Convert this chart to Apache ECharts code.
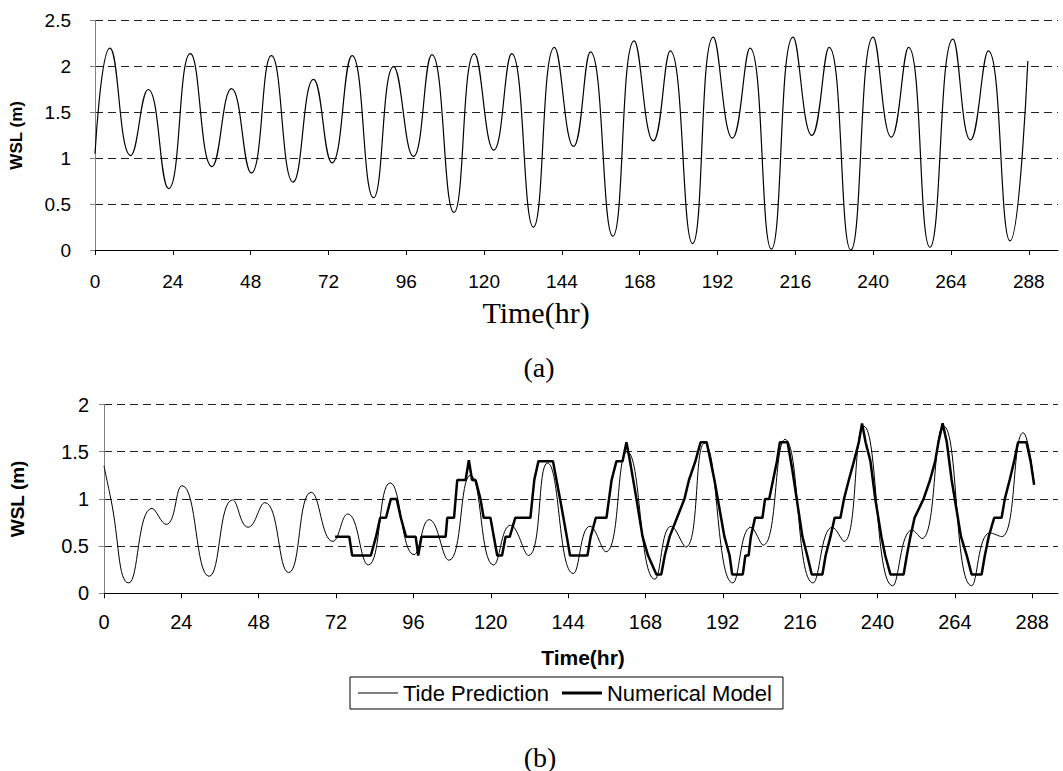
<!DOCTYPE html>
<html><head><meta charset="utf-8">
<script src="https://cdn.jsdelivr.net/npm/echarts@6/dist/echarts.min.js"></script>
<style>html,body{margin:0;padding:0;background:#fff}#c{width:1063px;height:771px}</style>
</head><body><div id="c"></div>
<script>
// ---- data ----
const hourTicks = [0, 24, 48, 72, 96, 120, 144, 168, 192, 216, 240, 264, 288];
const seriesNames = ['Tide Prediction', 'Numerical Model'];
const axisTitles = ['Time(hr)', 'WSL (m)'];
const panelLabels = ['(a)', '(b)'];

// panel (a): tide level, turning points (hr, m)
const topTime = [0, 4.6, 11.0, 16.4, 22.7, 29.4, 36.1, 42.1, 48.2, 54.4, 61.1, 67.4, 73.1, 79.3, 85.9, 92.1,
  98.2, 103.9, 110.7, 117.0, 123.0, 128.5, 135.2, 141.7, 147.6, 152.8, 159.7, 166.3, 172.2, 177.4, 184.3,
  190.7, 196.6, 202.0, 208.6, 215.3, 221.1, 226.4, 233.1, 240.0, 245.6, 250.9, 257.5, 264.6, 270.0, 275.5,
  282.2, 287.7];
const topWsl = [1.05, 2.20, 1.03, 1.75, 0.67, 2.14, 0.91, 1.76, 0.84, 2.12, 0.74, 1.86, 0.95, 2.12, 0.57, 2.00,
  1.02, 2.13, 0.41, 2.14, 1.09, 2.14, 0.25, 2.21, 1.13, 2.16, 0.15, 2.28, 1.19, 2.17, 0.07,
  2.32, 1.22, 2.20, 0.01, 2.32, 1.25, 2.21, 0.00, 2.32, 1.23, 2.21, 0.03, 2.30, 1.20, 2.17,
  0.10, 2.06];

// panel (b): tide prediction
const tideTime = [0, 2.0, 7.7, 14.9, 19.3, 24.2, 32.6, 39.9, 44.7, 49.9, 57.3, 64.3, 71.0, 75.6, 82.0, 88.8,
  96.2, 100.9, 107.0, 113.7, 120.9, 126.1, 131.7, 137.6, 145.6, 150.8, 155.7, 162.3, 170.9, 176.0, 180.5,
  186.3, 195.1, 200.7, 204.5, 211.3, 220.0, 226.0, 229.6, 235.7, 244.7, 250.7, 253.8, 260.5, 269.2, 274.9,
  278.5, 285.2, 288.6];
const tideWsl = [1.35, 1.02, 0.11, 0.90, 0.73, 1.14, 0.18, 0.99, 0.70, 0.96, 0.22, 1.07, 0.55, 0.84, 0.30, 1.17,
  0.41, 0.78, 0.35, 1.25, 0.30, 0.72, 0.40, 1.38, 0.21, 0.71, 0.44, 1.50, 0.15, 0.71, 0.49,
  1.59, 0.11, 0.70, 0.51, 1.63, 0.11, 0.70, 0.55, 1.77, 0.08, 0.67, 0.58, 1.77, 0.08, 0.64,
  0.60, 1.70, 1.15];

// panel (b): numerical model (stepped output)
const modelTime = [71.7, 76.1, 77.0, 82.8, 84.4, 85.7, 87.5, 89.0, 90.8, 92.1, 93.7,
  96.7, 97.5, 98.5, 106.0, 106.5, 108.6, 109.6, 112.2, 113.2, 114.2, 115.3, 116.8, 117.8, 119.9,
  122.0, 123.5, 124.6, 125.9, 127.6, 132.3, 133.5, 134.8, 139.3, 141.5, 143.6, 144.6, 150.0, 151.0,
  152.6, 155.9, 157.5, 159.0, 160.9, 162.1, 163.2, 165.2, 167.1, 168.8, 171.4, 172.9, 174.0, 175.5,
  177.8, 180.1, 181.5, 183.5, 185.1, 187.0, 189.4, 192.5, 194.1, 194.9, 198.2, 199.0, 200.0, 200.7,
  202.0, 204.3, 205.1, 206.4, 207.6, 208.8, 209.7, 212.1, 213.6, 216.7, 218.2, 219.6, 222.9, 223.9,
  225.4, 226.7, 228.5, 229.6, 231.1, 232.7, 234.2, 235.2, 236.3, 237.8, 239.3, 241.2, 242.4, 244.0,
  248.1, 249.1, 250.2, 251.5, 254.3, 256.3, 257.9, 258.9, 260.2, 261.5, 263.0, 265.9, 267.7, 269.2,
  272.3, 273.3, 274.5, 276.2, 278.5, 279.5, 281.0, 282.4, 283.6, 286.2, 287.5, 288.6];
const modelWsl = [0.6, 0.6, 0.4, 0.4, 0.6, 0.8, 0.8, 1.0, 1.0, 0.8, 0.6,
  0.6, 0.4, 0.6, 0.6, 0.8, 0.8, 1.2, 1.2, 1.41, 1.2, 1.2, 1.0, 0.8, 0.8,
  0.4, 0.4, 0.6, 0.6, 0.8, 0.8, 1.2, 1.4, 1.4, 1.0, 0.6, 0.4, 0.4, 0.6,
  0.8, 0.8, 1.2, 1.4, 1.4, 1.6, 1.4, 1.0, 0.6, 0.4, 0.2, 0.2, 0.4, 0.6,
  0.8, 1.0, 1.2, 1.4, 1.6, 1.6, 1.2, 0.6, 0.4, 0.2, 0.2, 0.4, 0.4, 0.6,
  0.8, 0.8, 1.0, 1.0, 1.2, 1.4, 1.6, 1.6, 1.3, 0.6, 0.4, 0.2, 0.2, 0.4,
  0.6, 0.8, 0.8, 1.0, 1.2, 1.4, 1.6, 1.8, 1.6, 1.4, 1.0, 0.6, 0.4, 0.2,
  0.2, 0.4, 0.6, 0.8, 1.0, 1.2, 1.4, 1.6, 1.8, 1.6, 1.2, 0.6, 0.4, 0.2,
  0.2, 0.4, 0.6, 0.8, 0.8, 1.0, 1.2, 1.4, 1.6, 1.6, 1.4, 1.15];

// ---- chart ----
const zip = (a, b) => a.map((t, i) => [t, b[i]]);
const SANS = '"Liberation Sans", Arial, sans-serif';
const SERIF = '"Liberation Serif", "Times New Roman", serif';

function xAxisCfg(grid, max, fs, margin) {
  return {
    gridIndex: grid, type: 'value', min: 0, max: max,
    axisLine: { show: true, lineStyle: { color: '#000', width: 1 } },
    axisTick: { show: true, customValues: hourTicks, length: 5, lineStyle: { color: '#000' } },
    axisLabel: { customValues: hourTicks, fontSize: fs, color: '#000', fontFamily: SANS, margin: margin },
    splitLine: { show: false }
  };
}
function yAxisCfg(grid, max, fs, margin, nameGap, nameFs) {
  return {
    gridIndex: grid, type: 'value', min: 0, max: max, interval: 0.5,
    name: axisTitles[1], nameLocation: 'middle', nameRotate: 90, nameGap: nameGap,
    nameTextStyle: { fontSize: nameFs, fontWeight: 'bold', color: '#000', fontFamily: SANS },
    axisLine: { show: true, lineStyle: { color: '#808080', width: 1 } },
    axisTick: { show: true, length: 5, lineStyle: { color: '#808080' } },
    axisLabel: { fontSize: fs, color: '#000', fontFamily: SANS, margin: margin },
    splitLine: { show: true, lineStyle: { color: '#222', type: [8, 5], width: 1 } }
  };
}

const chart = echarts.init(document.getElementById('c'), null, { renderer: 'svg' });
chart.setOption({
  animation: false,
  backgroundColor: '#fff',
  grid: [
    { left: 93.5, right: 5, top: 20.7, height: 229.3 },
    { left: 98.5, right: 5, top: 404.5, height: 188.8 }
  ],
  xAxis: [xAxisCfg(0, 297, 19, 22), xAxisCfg(1, 296, 20, 19)],
  yAxis: [yAxisCfg(0, 2.5, 19, 24, 70, 17), yAxisCfg(1, 2, 20, 15, 77, 19)],
  legend: {
    data: [
      { name: seriesNames[0], icon: 'path://M0,0H40V1.2H0Z' },
      { name: seriesNames[1], icon: 'path://M0,0H40V3H0Z' }
    ],
    left: 350, top: 677, orient: 'horizontal',
    itemWidth: 40, itemHeight: 12, itemGap: 13,
    borderColor: '#000', borderWidth: 1, borderRadius: 0, padding: [5, 11, 5, 8],
    textStyle: { fontSize: 22, color: '#000', fontFamily: SANS }
  },
  series: [
    { name: 'WSL', type: 'line', xAxisIndex: 0, yAxisIndex: 0, data: zip(topTime, topWsl),
      smooth: 0.5, symbol: 'none', lineStyle: { color: '#000', width: 1.2 } },
    { name: seriesNames[0], type: 'line', xAxisIndex: 1, yAxisIndex: 1, data: zip(tideTime, tideWsl),
      smooth: 0.5, symbol: 'none', lineStyle: { color: '#000', width: 1 }, itemStyle: { color: '#000' } },
    { name: seriesNames[1], type: 'line', xAxisIndex: 1, yAxisIndex: 1, data: zip(modelTime, modelWsl),
      symbol: 'none', lineStyle: { color: '#000', width: 2.5 }, itemStyle: { color: '#000' }, z: 3 }
  ],
  graphic: [
    { type: 'text', x: 536, y: 312, style: { text: axisTitles[0], font: '30px ' + SERIF, fill: '#000', textAlign: 'center', textVerticalAlign: 'middle' } },
    { type: 'text', x: 539, y: 367, style: { text: panelLabels[0], font: '28px ' + SERIF, fill: '#000', textAlign: 'center', textVerticalAlign: 'middle' } },
    { type: 'text', x: 583, y: 657, style: { text: axisTitles[0], font: 'bold 21px ' + SANS, fill: '#000', textAlign: 'center', textVerticalAlign: 'middle' } },
    { type: 'text', x: 540, y: 757, style: { text: panelLabels[1], font: '28px ' + SERIF, fill: '#000', textAlign: 'center', textVerticalAlign: 'middle' } }
  ]
});
</script></body></html>
